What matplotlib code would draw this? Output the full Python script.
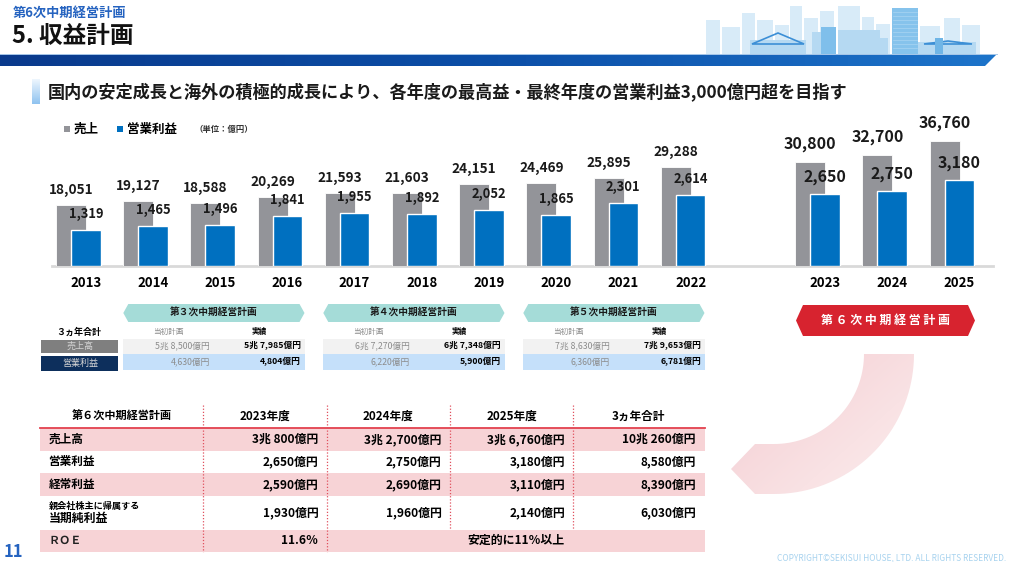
import numpy as np
import matplotlib
matplotlib.use('Agg')
import matplotlib.pyplot as plt
from matplotlib.patches import Rectangle, Polygon
from matplotlib.colors import LinearSegmentedColormap

plt.rcParams['font.family'] = ['Noto Sans CJK JP', 'DejaVu Sans']

# bar chart data (単位：億円)
years = ['2013', '2014', '2015', '2016', '2017', '2018', '2019',
         '2020', '2021', '2022', '2023', '2024', '2025']
x_pos = [0, 1, 2, 3, 4, 5, 6, 7, 8, 9, 11, 12, 13]
sales = [18051, 19127, 18588, 20269, 21593, 21603, 24151,
         24469, 25895, 29288, 30800, 32700, 36760]
op_income = [1319, 1465, 1496, 1841, 1955, 1892, 2052,
             1865, 2301, 2614, 2650, 2750, 3180]
n_actual = 10  # 2013-2022 actual, rest plan

# past mid-term plans
plan_names = ['第３次中期経営計画', '第４次中期経営計画', '第５次中期経営計画']
plan_sales_target = ['5兆 8,500億円', '6兆 7,270億円', '7兆 8,630億円']
plan_sales_actual = ['5兆 7,985億円', '6兆 7,348億円', '7兆 9,653億円']
plan_op_target = ['4,630億円', '6,220億円', '6,360億円']
plan_op_actual = ['4,804億円', '5,900億円', '6,781億円']

# 6th plan table
tbl_cols = ['2023年度', '2024年度', '2025年度', '3ヵ年合計']
tbl_sales = ['3兆 800億円', '3兆 2,700億円', '3兆 6,760億円', '10兆 260億円']
tbl_op = ['2,650億円', '2,750億円', '3,180億円', '8,580億円']
tbl_ord = ['2,590億円', '2,690億円', '3,110億円', '8,390億円']
tbl_net = ['1,930億円', '1,960億円', '2,140億円', '6,030億円']
roe_2023 = '11.6％'
roe_rest = '安定的に11％以上'

W, H = 1009, 562
fig = plt.figure(figsize=(W / 100, H / 100), dpi=100)
ov = fig.add_axes([0, 0, 1, 1])
ov.axis('off')

# ---- header ----
ov.text(13, 12.5, '第6次中期経営計画', fontsize=9.5, color='#2563c0',
        fontweight='bold', va='center')
ov.text(12, 36, '5. 収益計画', fontsize=17, fontweight='bold', va='center', color='#111111')

# city illustration (rough)
bg_blds = [(706, 20, 14), (722, 27, 18), (742, 13, 13), (757, 20, 16), (775, 25, 14),
           (790, 6, 12), (804, 18, 14), (820, 11, 14), (838, 6, 22), (862, 17, 12),
           (876, 24, 14), (920, 26, 20), (944, 18, 16), (962, 25, 18)]
for bx0, top, w in bg_blds:
    ov.add_patch(Rectangle((bx0, top), w, 54 - top, fc='#d8ebf8', ec='none'))
mid_blds = [(750, 40, 56), (812, 32, 24), (838, 30, 42), (868, 38, 20), (918, 42, 58)]
for bx0, top, w in mid_blds:
    ov.add_patch(Rectangle((bx0, top), w, 54 - top, fc='#b5d9f2', ec='none'))
ov.add_patch(Polygon([(752, 44), (778, 33), (804, 44)], fc='none', ec='#3c8fd6', lw=1.2))
ov.add_patch(Polygon([(924, 44), (948, 41), (972, 44)], fc='none', ec='#3c8fd6', lw=1.2))
ov.add_patch(Rectangle((821, 27), 15, 27, fc='#7fbfeb', ec='none'))
ov.add_patch(Rectangle((892, 8), 26, 46, fc='#86c3ec', ec='none'))
for gy in range(12, 52, 4):
    ov.plot([893, 917], [gy, gy], color='#a9d5f2', lw=0.5)
ov.add_patch(Rectangle((935, 38), 8, 16, fc='#6fb5e6', ec='none'))

# blue band with gradient
band = Polygon([(0, 54), (997, 54), (985, 66), (0, 66)], closed=True, fc='none', ec='none')
ov.add_patch(band)
band_cmap = LinearSegmentedColormap.from_list('band', ['#0a3a8c', '#0c4fa8', '#1d74ca'])
im = ov.imshow(np.linspace(0, 1, 256)[None, :], extent=(0, 997, 66, 54),
               cmap=band_cmap, aspect='auto', interpolation='bilinear')
im.set_clip_path(band)
ov.plot([0, 997], [54.3, 54.3], color='#a9c9ea', lw=0.7)

# subtitle
sub_cmap = LinearSegmentedColormap.from_list('sub', ['#eef6fe', '#8fc3f0'])
ov.imshow(np.linspace(0, 1, 64)[:, None], extent=(32, 40, 104, 79),
          cmap=sub_cmap, aspect='auto', interpolation='bilinear')
ov.text(48, 91.5, '国内の安定成長と海外の積極的成長により、各年度の最高益・最終年度の営業利益3,000億円超を目指す',
        fontsize=12.35, fontweight='bold', va='center', color='#1a1a1a')

# legend
ov.add_patch(Rectangle((64, 126), 6, 6, fc='#939499', ec='none'))
ov.text(74, 129.3, '売上', fontsize=9, fontweight='bold', va='center')
ov.add_patch(Rectangle((116.5, 126), 6, 6, fc='#0070c0', ec='none'))
ov.text(126.5, 129.3, '営業利益', fontsize=9, fontweight='bold', va='center')
ov.text(195, 129.3, '（単位：億円）', fontsize=6, fontweight='bold', va='center', color='#333333')

# ---- bar chart ----
ax = fig.add_axes([52 / W, (H - 265.7) / H, 941 / W, 155.7 / H])
ax.patch.set_alpha(0)
ax2 = ax.twinx()
xs = np.array(x_pos, dtype=float)
gx = xs - 0.108
bxs = xs + 0.112
ax.bar(gx, sales, width=0.446, color='#939499', edgecolor='white', linewidth=0.6, zorder=2)
ax2.bar(bxs, op_income, width=0.439, color='#0070c0', edgecolor='white', linewidth=1.0, zorder=2)
ax.set_xlim(-0.391, 13.613)
ax.set_ylim(0, 46065)
ax2.set_ylim(0, 5745)
ax.axhline(0, color='#d9d9d9', lw=2, zorder=1, clip_on=False)
for i, (s, o) in enumerate(zip(sales, op_income)):
    big = i >= n_actual
    fs = 11.5 if big else 9.8
    ax.annotate(f'{s:,}', (gx[i], s), xytext=(0, (18 if big else 15) * 0.72),
                textcoords='offset points', ha='center', va='center',
                fontsize=fs, fontweight='bold', color='#1a1a1a')
    ax2.annotate(f'{o:,}', (bxs[i], o), xytext=(0, (17 if big else 16) * 0.72),
                 textcoords='offset points', ha='center', va='center',
                 fontsize=11.5 if big else 9.3, fontweight='bold', color='#1a1a1a')
ax.set_xticks(bxs, years)
ax.tick_params(axis='x', length=0, pad=7.5, labelsize=9.5)
for t in ax.get_xticklabels():
    t.set_fontweight('bold')
ax.set_yticks([])
ax2.set_yticks([])
for a in (ax, ax2):
    for sp in a.spines.values():
        sp.set_visible(False)


def hexagon(x0, x1, y0, y1, tip, color):
    ym = (y0 + y1) / 2
    return Polygon([(x0, ym), (x0 + tip, y0), (x1 - tip, y0), (x1, ym),
                    (x1 - tip, y1), (x0 + tip, y1)], closed=True, fc=color, ec='none')


# ---- past plans ----
ov.text(79, 331.7, '３ヵ年合計', fontsize=6.5, fontweight='bold', ha='center', va='center')
ov.add_patch(Rectangle((41, 340), 77.3, 13.3, fc='#7f7f7f', ec='none'))
ov.text(79.7, 346.7, '売上高', fontsize=6.5, color='#d4d4d4', ha='center', va='center')
ov.add_patch(Rectangle((41, 355.7), 77.3, 15, fc='#0d2f5c', ec='none'))
ov.text(79.7, 363.2, '営業利益', fontsize=6.5, color='#d4d4d4', ha='center', va='center')
for k in range(3):
    dx = 200 * k
    x0, x1 = 123.3 + dx, 304.5 + dx
    ov.add_patch(hexagon(x0, x1, 304, 322, 5, '#a5dcd8'))
    ov.text((x0 + x1) / 2, 313, plan_names[k], fontsize=7, fontweight='bold',
            ha='center', va='center', color='#1a1a1a')
    ov.text(168.3 + dx, 331.7, '当初計画', fontsize=5.5, color='#8c8c8c', ha='center', va='center')
    ov.text(259.3 + dx, 331.7, '実績', fontsize=5.5, fontweight='bold', ha='center', va='center')
    ov.add_patch(Rectangle((x0, 338.5), x1 + 0.5 - x0, 15, fc='#f2f2f2', ec='none'))
    ov.add_patch(Rectangle((x0, 354.3), x1 + 0.5 - x0, 16, fc='#c5e0fa', ec='none'))
    ov.text(210 + dx, 346, plan_sales_target[k], fontsize=6.3, color='#8c8c8c', ha='right', va='center')
    ov.text(301 + dx, 346, plan_sales_actual[k], fontsize=6.3, fontweight='bold', ha='right', va='center')
    ov.text(210 + dx, 362, plan_op_target[k], fontsize=6.3, color='#8c8c8c', ha='right', va='center')
    ov.text(301 + dx, 362, plan_op_actual[k], fontsize=6.3, fontweight='bold', ha='right', va='center')

# 6th plan tag
ov.add_patch(hexagon(796, 975, 305, 336, 7, '#d7232f'))
ov.text(885.5, 320.5, '第 ６ 次 中 期 経 営 計 画', fontsize=8.6, fontweight='bold',
        color='white', ha='center', va='center')

# curved arrow
cx, cy, r_in, r_out = 774, 354, 90, 140
th = np.linspace(0, np.pi / 2, 40)
inner = [(cx + r_in * np.cos(t), cy + r_in * np.sin(t)) for t in th]
outer = [(cx + r_out * np.cos(t), cy + r_out * np.sin(t)) for t in th[::-1]]
verts = inner + [(755, cy + r_in), (731, cy + (r_in + r_out) / 2), (755, cy + r_out)] + outer
arrow = Polygon(verts, closed=True, fc='none', ec='none')
ov.add_patch(arrow)
gxx, gyy = np.meshgrid(np.linspace(0, 1, 120), np.linspace(0, 1, 120))
grad = np.clip(gxx * 0.7 + gyy * 0.6 - 0.35, 0, 1)
arc_cmap = LinearSegmentedColormap.from_list('arc', ['#f6d5d9', '#fcefef'])
im2 = ov.imshow(grad, extent=(731, 914, 494, 354), cmap=arc_cmap, aspect='auto',
                interpolation='bilinear', vmin=0, vmax=1)
im2.set_clip_path(arrow)

# ---- 6th plan table ----
rows_y = [(428, 450.7), (450.7, 472.7), (472.7, 496), (496, 530), (530, 551.7)]
for j in (0, 2, 4):
    y0, y1 = rows_y[j]
    ov.add_patch(Rectangle((40, y0), 665, y1 - y0, fc='#f7d3d6', ec='none'))
ov.plot([40, 705], [428, 428], color='#e3414e', lw=1.3)
seps = [203.3, 326.7, 450, 573.3]
for k, sx in enumerate(seps):
    ybot = 551.7 if k < 2 else 530
    ov.plot([sx, sx], [405, ybot], color='#e0505e', lw=0.9, ls=(0, (1, 1.5)))
col_right = [318.3, 441.7, 565, 696]
col_center = [265, 388, 511.7, 638.3]
ov.text(121.7, 416.7, '第６次中期経営計画', fontsize=8, fontweight='bold', ha='center', va='center')
for c in range(4):
    ov.text(col_center[c], 416.7, tbl_cols[c], fontsize=8.4, fontweight='bold', ha='center', va='center')
row_labels = ['売上高', '営業利益', '経常利益']
for j, (lab, vals) in enumerate(zip(row_labels, [tbl_sales, tbl_op, tbl_ord])):
    yc = (rows_y[j][0] + rows_y[j][1]) / 2
    ov.text(48.3, yc, lab, fontsize=8.4, fontweight='bold', va='center')
    for c in range(4):
        ov.text(col_right[c], yc, vals[c], fontsize=8.6, fontweight='bold', ha='right', va='center')
ov.text(48.3, 506, '親会社株主に帰属する', fontsize=6.6, fontweight='bold', va='center')
ov.text(48.3, 518, '当期純利益', fontsize=8.6, fontweight='bold', va='center')
for c in range(4):
    ov.text(col_right[c], 513, tbl_net[c], fontsize=8.6, fontweight='bold', ha='right', va='center')
ov.text(48.3, 540.5, 'ＲＯＥ', fontsize=8, fontweight='bold', va='center', color='#222222')
ov.text(col_right[0], 540.5, roe_2023, fontsize=8.6, fontweight='bold', ha='right', va='center')
ov.text(515.8, 540.5, roe_rest, fontsize=8.6, fontweight='bold', ha='center', va='center')

# footer
ov.text(4, 552, '11', fontsize=12, fontweight='bold', color='#2563c0', va='center')
ov.text(1006, 557.5, 'COPYRIGHT©SEKISUI HOUSE, LTD. ALL RIGHTS RESERVED.', fontsize=6,
        color='#a8d3ef', ha='right', va='center')

ov.set_xlim(0, W)
ov.set_ylim(H, 0)
fig.savefig('out.png', dpi=100)
